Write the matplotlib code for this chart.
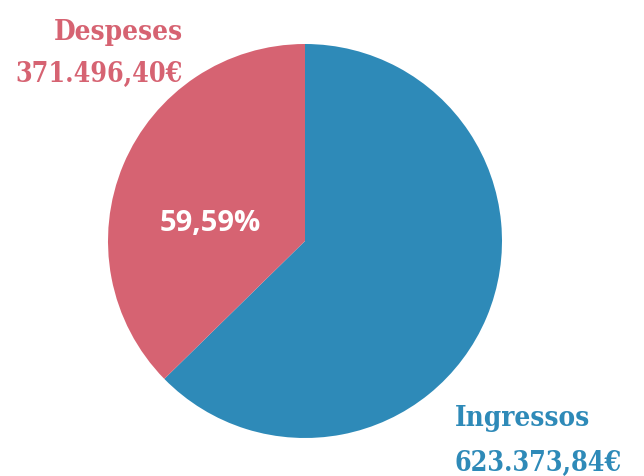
import matplotlib
matplotlib.use("Agg")
import matplotlib.pyplot as plt

categories = ["Ingressos", "Despeses"]
values = [623373.84, 371496.40]
value_labels = ["623.373,84€", "371.496,40€"]
ratio_label = "59,59%"
colors = ["#2e8ab8", "#d66372"]

W, H = 644, 477
fig = plt.figure(figsize=(W / 100, H / 100), dpi=100)
cx, cy, r = 305, 242, 197
ax = fig.add_axes([(cx - r) / W, (H - cy - r) / H, 2 * r / W, 2 * r / H])
ax.pie(values, colors=colors, startangle=90, counterclock=False,
       radius=1, wedgeprops=dict(linewidth=0))
ax.set_xlim(-1, 1)
ax.set_ylim(-1, 1)
ax.set_aspect("equal")
ax.axis("off")

def fx(px):
    return px / W

def fy(py):
    return 1 - py / H

serif = ["DejaVu Serif"]
kw = dict(fontweight="bold", family=serif, fontstretch="condensed")
fig.text(fx(183), fy(32), categories[1], color=colors[1], ha="right", va="center", fontsize=20, **kw)
fig.text(fx(183), fy(74), value_labels[1], color=colors[1], ha="right", va="center", fontsize=19.3, **kw)
fig.text(fx(455), fy(419), categories[0], color=colors[0], ha="left", va="center", fontsize=20, **kw)
fig.text(fx(455), fy(463), value_labels[0], color=colors[0], ha="left", va="center", fontsize=19.3, **kw)
fig.text(fx(210), fy(224), ratio_label, color="white", ha="center", va="center",
         fontsize=21, fontweight="bold", family=["Open Sans"])

fig.savefig("out.png", dpi=100)
